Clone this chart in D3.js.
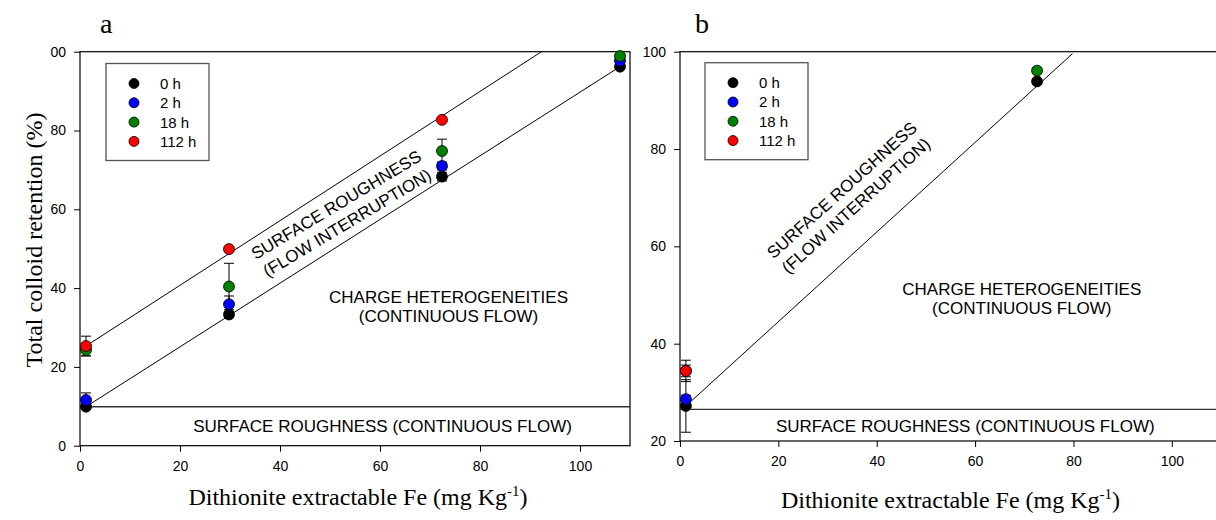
<!DOCTYPE html>
<html>
<head>
<meta charset="utf-8">
<script src="https://cdn.jsdelivr.net/npm/d3@7"></script>
<style>
    body { margin: 0; background: #fff; }
    text { fill: #000; }
    .tick text { font-family: "Liberation Sans", Arial, sans-serif; font-size: 14px; }
    .note { font-family: "Liberation Sans", Arial, sans-serif; font-size: 17px; }
    .serif { font-family: "Liberation Serif", "Times New Roman", serif; }
</style>
</head>
<body>
<svg id="chart" width="1216" height="520"></svg>
<script>
// series names and colours
var hours = ["0 h", "2 h", "18 h", "112 h"];
var colors = ["#000000", "#0000ff", "#008000", "#ff0000"];

// panel a
var feA = [1.2, 29.8, 72.4, 108];
var a0h = [9.9, 33.3, 68.3, 96.2];
var a0hErr = [0.5, 0.8, 1.1, 0.5];
var a2h = [11.6, 35.9, 71.0, 97.7];
var a2hErr = [1.8, 2.1, 1.0, 0.5];
var a18h = [24.3, 40.4, 74.8, 98.9];
var a18hErr = [1.5, 5.9, 3.0, 0.5];
var a112h = [25.3, 49.9, 82.7, null];
var a112hErr = [2.5, 0.5, 0.5, null];
// trend lines of panel a: [x1, y1, x2, y2]
var aLines = [[1.2, 25.3, 92.3, 100], [1.2, 9.9, 108, 96.2], [0, 9.9, 110, 9.9]];

// panel b
var feB = [1.2, 72.6];
var b0h = [27.2, 93.9];
var b0hErr = [5.4, 0.6];
var b2h = [28.6, null];
var b2hErr = [0.8, null];
var b18h = [34.4, 96.1];
var b18hErr = [2.2, 0.6];
var b112h = [34.4, null];
var b112hErr = [1.2, null];
var bLines = [[1.2, 27.2, 79.8, 99.6], [0, 26.5, 110, 26.5]];

// ticks
var xTicks = [0, 20, 40, 60, 80, 100];
var xTickLabels = ["0", "20", "40", "60", "80", "100"];
var aYTicks = [0, 20, 40, 60, 80, 100];
var aYTickLabels = ["0", "20", "40", "60", "80", "00"];
var bYTicks = [20, 40, 60, 80, 100];
var bYTickLabels = ["20", "40", "60", "80", "100"];

var svg = d3.select("#chart");

function drawPanel(p) {
    var x = d3.scaleLinear().domain([0, 110]).range(p.xRange);
    var y = d3.scaleLinear().domain(p.yDomain).range(p.yRange);
    var g = svg.append("g");

    // frame
    g.append("rect")
        .attr("x", x(0))
        .attr("y", y(p.yDomain[1]))
        .attr("width", x(110) - x(0))
        .attr("height", y(p.yDomain[0]) - y(p.yDomain[1]))
        .attr("fill", "none")
        .attr("stroke", "#000")
        .attr("stroke-width", 1.2);

    var xAxis = g.append("g")
        .attr("transform", "translate(0," + y(p.yDomain[0]) + ")")
        .call(d3.axisBottom(x).tickValues(xTicks).tickSize(6).tickSizeOuter(0).tickPadding(9)
            .tickFormat(function (d, i) { return xTickLabels[i]; }));
    var yAxis = g.append("g")
        .attr("transform", "translate(" + x(0) + ",0)")
        .call(d3.axisLeft(y).tickValues(p.yTicks).tickSize(6).tickSizeOuter(0).tickPadding(8)
            .tickFormat(function (d, i) { return p.yTickLabels[i]; }));
    [xAxis, yAxis].forEach(function (ax) {
        ax.select(".domain").remove();
        ax.selectAll(".tick line").attr("stroke", "#000");
    });

    // trend lines
    g.selectAll(".trend")
        .data(p.lines)
        .enter().append("line")
        .attr("class", "trend")
        .attr("x1", function (d) { return x(d[0]); })
        .attr("y1", function (d) { return y(d[1]); })
        .attr("x2", function (d) { return x(d[2]); })
        .attr("y2", function (d) { return y(d[3]); })
        .attr("stroke", function (d) { return d[1] === d[3] ? "#333" : "#000"; })
        .attr("stroke-width", function (d) { return d[1] === d[3] ? 1.4 : 1; });

    // points with error bars
    var points = [];
    p.series.forEach(function (s, si) {
        s.values.forEach(function (v, i) {
            if (v !== null) {
                points.push({fe: p.fe[i], v: v, err: s.err[i], color: colors[si]});
            }
        });
    });

    var eb = g.selectAll(".err")
        .data(points)
        .enter().append("g")
        .attr("class", "err")
        .attr("stroke", "#000")
        .attr("stroke-width", 1);
    eb.append("line")
        .attr("x1", function (d) { return x(d.fe); })
        .attr("x2", function (d) { return x(d.fe); })
        .attr("y1", function (d) { return y(d.v - d.err); })
        .attr("y2", function (d) { return y(d.v + d.err); });
    [-1, 1].forEach(function (sign) {
        eb.append("line")
            .attr("x1", function (d) { return x(d.fe) - 5; })
            .attr("x2", function (d) { return x(d.fe) + 5; })
            .attr("y1", function (d) { return y(d.v + sign * d.err); })
            .attr("y2", function (d) { return y(d.v + sign * d.err); });
    });

    g.selectAll(".pt")
        .data(points)
        .enter().append("circle")
        .attr("class", "pt")
        .attr("cx", function (d) { return x(d.fe); })
        .attr("cy", function (d) { return y(d.v); })
        .attr("r", 5.5)
        .attr("fill", function (d) { return d.color; })
        .attr("stroke", "#000")
        .attr("stroke-width", 0.8);

    // legend
    var leg = g.append("g").attr("transform", "translate(" + p.legend[0] + "," + p.legend[1] + ")");
    leg.append("rect")
        .attr("width", 103)
        .attr("height", 97)
        .attr("fill", "#fff")
        .attr("stroke", "#555")
        .attr("stroke-width", 1.3);
    var item = leg.selectAll(".item")
        .data(hours)
        .enter().append("g")
        .attr("transform", function (d, i) { return "translate(28," + (20 + i * 19.3) + ")"; });
    item.append("circle")
        .attr("r", 5)
        .attr("fill", function (d, i) { return colors[i]; })
        .attr("stroke", "#000")
        .attr("stroke-width", 0.8);
    item.append("text")
        .attr("x", 26)
        .attr("dy", "0.36em")
        .style("font-family", "'Liberation Sans', Arial, sans-serif")
        .style("font-size", "15px")
        .text(function (d) { return d; });

    // region notes
    var rot = g.append("g")
        .attr("transform", "translate(" + x(p.rough[0]) + "," + y(p.rough[1]) + ") rotate(" + p.rough[2] + ")");
    rot.append("text").attr("class", "note").attr("text-anchor", "middle")
        .attr("y", -10.5).attr("dy", "0.36em").text("SURFACE ROUGHNESS");
    rot.append("text").attr("class", "note").attr("text-anchor", "middle")
        .attr("y", 10.5).attr("dy", "0.36em").text("(FLOW INTERRUPTION)");

    g.append("text").attr("class", "note").attr("text-anchor", "middle")
        .attr("x", x(p.charge[0])).attr("y", y(p.charge[1]))
        .text("CHARGE HETEROGENEITIES");
    g.append("text").attr("class", "note").attr("text-anchor", "middle")
        .attr("x", x(p.charge[0])).attr("y", y(p.charge[1]) + 19)
        .text("(CONTINUOUS FLOW)");
    g.append("text").attr("class", "note").attr("text-anchor", "middle")
        .attr("x", x(p.bottom[0])).attr("y", y(p.bottom[1]))
        .text("SURFACE ROUGHNESS (CONTINUOUS FLOW)");

    // panel letter and x title
    g.append("text").attr("class", "serif")
        .attr("x", p.letter[0]).attr("y", p.letter[1])
        .style("font-size", "28px")
        .text(p.name);
    var xt = g.append("text").attr("class", "serif")
        .attr("x", (x(0) + x(110)) / 2 + p.xTitleShift)
        .attr("y", p.xTitleY)
        .attr("text-anchor", "middle")
        .style("font-size", "24px");
    xt.append("tspan").text("Dithionite extractable Fe (mg Kg");
    xt.append("tspan").attr("dy", -9).style("font-size", "15px").text("-1");
    xt.append("tspan").attr("dy", 9).text(")");
}

drawPanel({
    name: "a",
    xRange: [80, 630],
    yDomain: [0, 100],
    yRange: [445.7, 51.7],
    yTicks: aYTicks,
    yTickLabels: aYTickLabels,
    fe: feA,
    series: [
        {values: a0h, err: a0hErr},
        {values: a2h, err: a2hErr},
        {values: a18h, err: a18hErr},
        {values: a112h, err: a112hErr}
    ],
    lines: aLines,
    legend: [106, 63.5],
    rough: [52.3, 58.9, -31],
    charge: [73.7, 36.3],
    bottom: [60.5, 3.4],
    letter: [100, 33],
    xTitleShift: 3,
    xTitleY: 505
});

drawPanel({
    name: "b",
    xRange: [680, 1221],
    yDomain: [20, 100],
    yRange: [441, 51.7],
    yTicks: bYTicks,
    yTickLabels: bYTickLabels,
    fe: feB,
    series: [
        {values: b0h, err: b0hErr},
        {values: b2h, err: b2hErr},
        {values: b18h, err: b18hErr},
        {values: b112h, err: b112hErr}
    ],
    lines: bLines,
    legend: [705, 62.7],
    rough: [34.3, 70.0, -42],
    charge: [69.5, 50.0],
    bottom: [58.0, 21.9],
    letter: [695, 33],
    xTitleShift: 0,
    xTitleY: 508
});

// y title, only on the left panel
svg.append("text")
    .attr("class", "serif")
    .attr("transform", "translate(42,240) rotate(-90)")
    .attr("text-anchor", "middle")
    .style("font-size", "24px")
    .text("Total colloid retention (%)");
</script>
</body>
</html>
